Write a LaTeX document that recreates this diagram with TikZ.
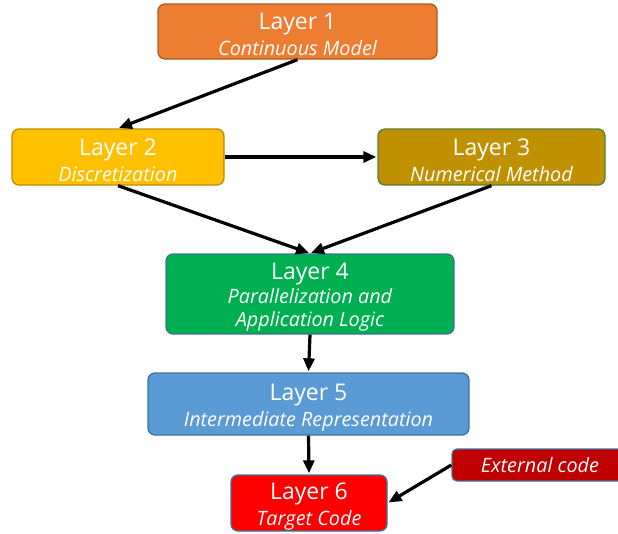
\documentclass[tikz,border=0pt]{standalone}
\usepackage{fontspec}
\setmainfont{Open Sans}
\usetikzlibrary{arrows.meta}
\definecolor{c1}{HTML}{ED7D31}\definecolor{b1}{HTML}{AE5A21}
\definecolor{c2}{HTML}{FFC000}\definecolor{b2}{HTML}{BC8C00}
\definecolor{c3}{HTML}{BF9000}\definecolor{b3}{HTML}{548235}
\definecolor{c4}{HTML}{00B050}\definecolor{bb}{HTML}{41719C}
\definecolor{c5}{HTML}{5B9BD5}
\definecolor{c6}{HTML}{FF0000}
\definecolor{c7}{HTML}{C00000}
\newcommand{\ttl}[1]{{\fontsize{23}{26}\selectfont\rule{0pt}{23pt}#1}}
\newcommand{\sub}[1]{{\fontsize{19.8}{26}\selectfont\itshape #1}}
\begin{document}
\begin{tikzpicture}[x=1pt,y=-1pt,
  layer/.style={draw, line width=1.3pt, rounded corners=7pt, text=white, align=center, inner sep=0pt, font=\fontsize{19.8}{26}\selectfont},
  arr/.style={line width=3.2pt, -{Triangle[length=13pt,width=11pt]}, shorten >=1pt}]
\useasboundingbox (0,0) rectangle (618,533);
\clip (0,0) rectangle (618,533);
\node[layer, fill=c1, draw=b1, minimum width=279pt, minimum height=55pt] (L1) at (297.5,31.5) {\ttl{Layer 1}\\\sub{Continuous Model}};
\node[layer, fill=c2, draw=b2, minimum width=212pt, minimum height=56pt] (L2) at (118,157) {\ttl{Layer 2}\\\sub{Discretization}};
\node[layer, fill=c3, draw=b3, minimum width=227pt, minimum height=56pt] (L3) at (491.5,157) {\ttl{Layer 3}\\\sub{Numerical Method}};
\node[layer, fill=c4, draw=bb, minimum width=288pt, minimum height=80pt] (L4) at (310,294) {\ttl{Layer 4}\\[-2pt]\sub{Parallelization and}\\[-3pt]\sub{Application Logic}};
\node[layer, fill=c5, draw=bb, minimum width=321pt, minimum height=62pt] (L5) at (308.5,404) {\ttl{Layer 5}\\\sub{Intermediate Representation}};
\node[layer, fill=c6, draw=bb, minimum width=156pt, minimum height=56pt] (L6) at (309,503) {\ttl{Layer 6}\\\sub{Target Code}};
\node[layer, fill=c7, draw=bb, minimum width=176pt, minimum height=32pt, rounded corners=5pt] (EX) at (540,465) {\sub{External code}};
\draw[arr] (L1.south) -- (L2.north);
\draw[arr] (L2.east) -- (L3.west);
\draw[arr] (L2.south) -- (L4.north);
\draw[arr] (L3.south) -- (L4.north);
\draw[arr] (L4.south) -- (L5.north);
\draw[arr] (L5.south) -- (L6.north);
\draw[arr] (EX.west) -- (L6.east);
\end{tikzpicture}
\end{document}
